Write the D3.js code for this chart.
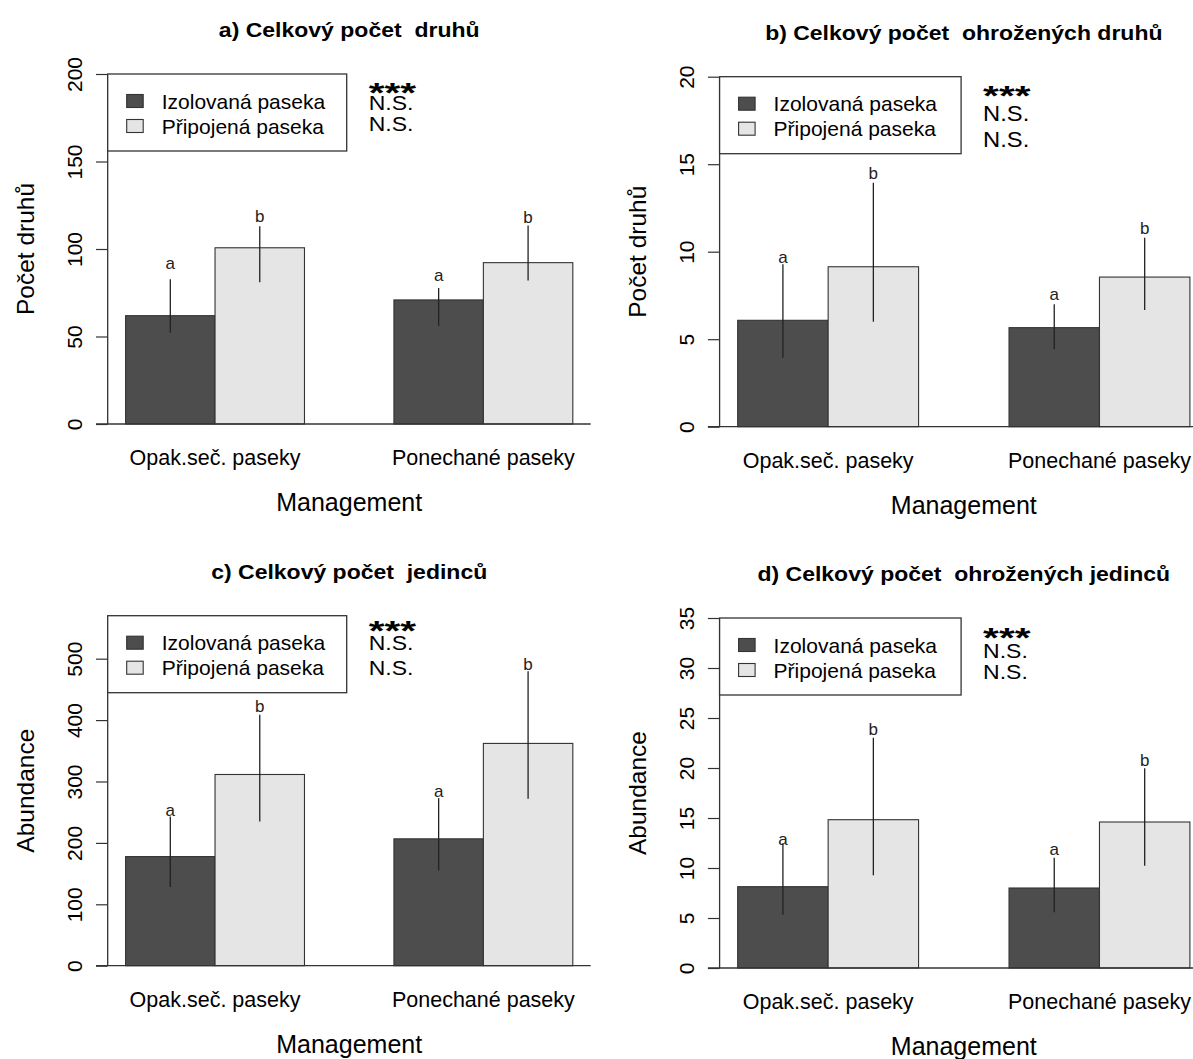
<!DOCTYPE html>
<html>
<head>
<meta charset="utf-8">
<script src="https://cdn.jsdelivr.net/npm/d3@7"></script>
<style>
  body { margin: 0; background: #fff; }
  text { font-family: "Liberation Sans", Arial, sans-serif; fill: #000; }
</style>
</head>
<body>
<svg id="chart" width="1193" height="1059"></svg>
<script>
// ---- data ----
var categories = ["Opak.seč. paseky", "Ponechané paseky"];
var seriesNames = ["Izolovaná paseka", "Připojená paseka"];
var seriesFill = ["#4d4d4d", "#e5e5e5"];
var groupLetters = [["a", "a"], ["b", "b"]];
var sigLabels = ["***", "N.S.", "N.S."];

// a) Celkový počet druhů
var druhyIzol = [61.9, 70.9],
    druhyPrip = [100.7, 92.2],
    druhyIzolErr = [[52.2, 82.7], [56.0, 77.7]],
    druhyPripErr = [[81.0, 113.0], [82.0, 113.5]],
    druhyLetterY = [[92.2, 85.1], [118.9, 118.5]],
    druhyTicks = [0, 50, 100, 150, 200];

// b) Celkový počet ohrožených druhů
var ohrDruhyIzol = [6.08, 5.66],
    ohrDruhyPrip = [9.14, 8.55],
    ohrDruhyIzolErr = [[3.94, 9.28], [4.42, 7.0]],
    ohrDruhyPripErr = [[6.0, 13.94], [6.67, 10.8]],
    ohrDruhyLetterY = [[9.71, 7.58], [14.48, 11.34]],
    ohrDruhyTicks = [0, 5, 10, 15, 20];

// c) Celkový počet jedinců
var jedinciIzol = [177.7, 206.6],
    jedinciPrip = [311.4, 362.0],
    jedinciIzolErr = [[128.3, 243.0], [155.0, 273.0]],
    jedinciPripErr = [[234.8, 408.8], [271.8, 479.4]],
    jedinciLetterY = [[252.7, 284.9], [422.3, 491.9]],
    jedinciTicks = [0, 100, 200, 300, 400, 500];

// d) Celkový počet ohrožených jedinců
var ohrJedinciIzol = [8.13, 8.0],
    ohrJedinciPrip = [14.83, 14.6],
    ohrJedinciIzolErr = [[5.33, 12.47], [5.57, 11.03]],
    ohrJedinciPripErr = [[9.27, 23.03], [10.23, 19.97]],
    ohrJedinciLetterY = [[12.87, 11.9], [23.87, 20.8]],
    ohrJedinciTicks = [0, 5, 10, 15, 20, 25, 30, 35];

var panels = [
  { title: "a) Celkový počet  druhů", ylab: "Počet druhů", ymax: 200, ticks: druhyTicks,
    means: [druhyIzol, druhyPrip], err: [druhyIzolErr, druhyPripErr], letterY: druhyLetterY },
  { title: "b) Celkový počet  ohrožených druhů", ylab: "Počet druhů", ymax: 20, ticks: ohrDruhyTicks,
    means: [ohrDruhyIzol, ohrDruhyPrip], err: [ohrDruhyIzolErr, ohrDruhyPripErr], letterY: ohrDruhyLetterY },
  { title: "c) Celkový počet  jedinců", ylab: "Abundance", ymax: 570, ticks: jedinciTicks,
    means: [jedinciIzol, jedinciPrip], err: [jedinciIzolErr, jedinciPripErr], letterY: jedinciLetterY },
  { title: "d) Celkový počet  ohrožených jedinců", ylab: "Abundance", ymax: 35, ticks: ohrJedinciTicks,
    means: [ohrJedinciIzol, ohrJedinciPrip], err: [ohrJedinciIzolErr, ohrJedinciPripErr], letterY: ohrJedinciLetterY }
];

// ---- layout (plot regions in px) ----
var layout = [
  { left: 107.7, right: 590.7, top: 74,    bottom: 424,   legendW: 239,   starDy: 12.2, ns: [36, 57], nsSize: 20, nsSx: 1.15 },
  { left: 719.6, right: 1208,  top: 76.7,  bottom: 426.7, legendW: 241.5, starDy: 12.3, ns: [44, 70], nsSize: 22, nsSx: 1.08 },
  { left: 107.7, right: 590.7, top: 615.7, bottom: 965.7, legendW: 239,   starDy: 8,    ns: [34, 59], nsSize: 20, nsSx: 1.15 },
  { left: 719.6, right: 1208,  top: 618,   bottom: 968,   legendW: 241.5, starDy: 13,   ns: [40, 61], nsSize: 20, nsSx: 1.15 }
];

var ink = "#333";
var svg = d3.select("#chart");
svg.append("rect").attr("width", 1193).attr("height", 1059).attr("fill", "#fff");

// text with horizontal stretch
function stext(g, x, y, str, size, sx, opts) {
  opts = opts || {};
  var t = g.append("text")
      .attr("transform", "translate(" + x + "," + y + ") scale(" + sx + ",1)" + (opts.rotate ? " rotate(-90)" : ""))
      .attr("font-size", size)
      .attr("text-anchor", opts.anchor || "start")
      .style("white-space", "pre")
      .text(str);
  if (opts.bold) t.attr("font-weight", "bold");
  if (opts.family) t.style("font-family", opts.family);
  if (opts.fill) t.style("fill", opts.fill);
  return t;
}

panels.forEach(function(p, k) {
  var L = layout[k];
  var g = svg.append("g");

  // barplot with space=c(0,1): bars at 1..6, xlim extended 4%
  var x = d3.scaleLinear().domain([0.8, 6.2]).range([L.left, L.right]);
  var y = d3.scaleLinear().domain([0, p.ymax]).range([L.bottom, L.top]);

  var bars = [];
  categories.forEach(function(c, ci) {
    seriesNames.forEach(function(s, si) {
      var x0 = 1 + ci * 3 + si;
      bars.push({ x0: x0, ci: ci, si: si, v: p.means[si][ci], lo: p.err[si][ci][0], hi: p.err[si][ci][1],
                  ly: p.letterY[si][ci], letter: groupLetters[si][ci] });
    });
  });

  g.selectAll("rect.bar").data(bars).enter().append("rect")
      .attr("class", "bar")
      .attr("x", function(d) { return x(d.x0); })
      .attr("width", function(d) { return x(d.x0 + 1) - x(d.x0); })
      .attr("y", function(d) { return y(d.v); })
      .attr("height", function(d) { return y(0) - y(d.v); })
      .attr("fill", function(d) { return seriesFill[d.si]; })
      .attr("stroke", ink)
      .attr("stroke-width", 1.1);

  // error bars
  g.selectAll("line.err").data(bars).enter().append("line")
      .attr("class", "err")
      .attr("x1", function(d) { return x(d.x0 + 0.5); })
      .attr("x2", function(d) { return x(d.x0 + 0.5); })
      .attr("y1", function(d) { return y(d.lo); })
      .attr("y2", function(d) { return y(d.hi); })
      .attr("stroke", "#222")
      .attr("stroke-width", 1.3);

  // group letters
  g.selectAll("text.letter").data(bars).enter().append("text")
      .attr("class", "letter")
      .attr("x", function(d) { return x(d.x0 + 0.5); })
      .attr("y", function(d) { return y(d.ly); })
      .attr("dy", "0.35em")
      .attr("text-anchor", "middle")
      .attr("font-size", 17)
      .style("font-family", "'Liberation Sans Narrow', 'Liberation Sans', Arial, sans-serif")
      .style("fill", "#222")
      .text(function(d) { return d.letter; });

  // y axis
  var ya = g.append("g")
      .attr("transform", "translate(" + L.left + ",0)")
      .call(d3.axisLeft(y).tickValues(p.ticks).tickSize(11.7).tickFormat(""));
  ya.select(".domain").remove();
  ya.selectAll(".tick line").attr("stroke", ink).attr("stroke-width", 1.2);
  ya.append("line")
      .attr("x1", 0).attr("x2", 0)
      .attr("y1", y(0)).attr("y2", y(p.ticks[p.ticks.length - 1]))
      .attr("stroke", ink).attr("stroke-width", 1.3);
  ya.selectAll(".tick").each(function(d) {
    d3.select(this).append("text")
        .attr("transform", "translate(-26,0) rotate(-90)")
        .attr("text-anchor", "middle")
        .attr("font-size", 21)
        .style("fill", "#000")
        .text(d);
  });

  // baseline
  g.append("line")
      .attr("x1", L.left - 11.7).attr("x2", L.right)
      .attr("y1", y(0)).attr("y2", y(0))
      .attr("stroke", ink).attr("stroke-width", 1.3);

  // category labels
  categories.forEach(function(c, ci) {
    stext(g, x(2 + ci * 3), L.bottom + 41, c, 21.5, 1, { anchor: "middle" });
  });

  // axis titles
  stext(g, (L.left + L.right) / 2, L.bottom + 87, "Management", 25, 1, { anchor: "middle" });
  stext(g, L.left - 74, (L.top + L.bottom) / 2, p.ylab, 24.5, 1, { anchor: "middle", rotate: true });

  // main title
  stext(g, (L.left + L.right) / 2, L.top - 37, p.title, 20, 1.15, { anchor: "middle", bold: true });

  // legend
  var lg = g.append("g").attr("transform", "translate(" + L.left + "," + L.top + ")");
  lg.append("rect")
      .attr("width", L.legendW).attr("height", 77)
      .attr("fill", "#fff").attr("stroke", ink).attr("stroke-width", 1.3);
  seriesNames.forEach(function(s, si) {
    var cy = 27 + si * 25;
    lg.append("rect")
        .attr("x", 19).attr("y", cy - 6.5)
        .attr("width", 16.5).attr("height", 13)
        .attr("fill", seriesFill[si]).attr("stroke", ink).attr("stroke-width", 1.1);
    stext(lg, 54, cy + 7.5, s, 21, 1);
  });

  // significance marks
  var sx0 = L.left + L.legendW + 22;
  stext(g, sx0, L.top + L.starDy + 16, sigLabels[0], 28, 1.45, { bold: true });
  stext(g, sx0, L.top + L.ns[0], sigLabels[1], L.nsSize, L.nsSx);
  stext(g, sx0, L.top + L.ns[1], sigLabels[2], L.nsSize, L.nsSx);
});
</script>
</body>
</html>
